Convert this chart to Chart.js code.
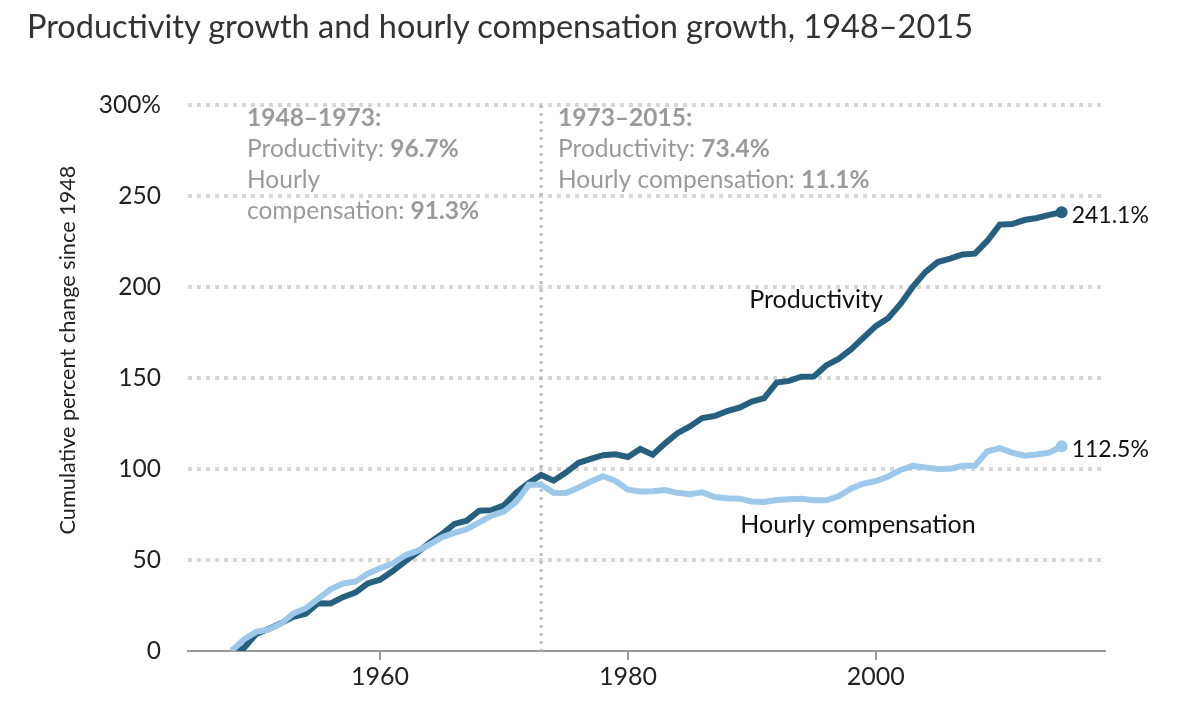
<!DOCTYPE html>
<html>
<head>
<meta charset="utf-8">
<script src="https://cdn.jsdelivr.net/npm/chart.js@4.4.1/dist/chart.umd.min.js"></script>
<style>
  body { margin: 0; background: #fff; }
  #wrap { position: relative; width: 1186px; height: 716px; }
  #title { position: absolute; left: 27px; top: 6px; font-family: Lato, sans-serif; font-size: 32.5px; color: #333; white-space: nowrap; }
  canvas { position: absolute; left: 0; top: 0; }
</style>
</head>
<body>
<div id="wrap">
  <canvas id="chart" width="1186" height="716"></canvas>
  <div id="title">Productivity growth and hourly compensation growth, 1948–2015</div>
</div>
<script>
// ---------------- DATA ----------------
const years = [];
for (let y = 1948; y <= 2015; y++) years.push(y);

const productivity = [
  0, 1.5, 9.3, 12.1, 15.3, 18.8, 20.5, 26.2, 26.1, 29.6,
  32.1, 37.1, 39.2, 43.8, 49.1, 54.1, 59.5, 64.3, 69.8, 71.6,
  77.1, 77.4, 80.0, 87.1, 92.3, 96.7, 93.6, 98.0, 103.3, 105.6,
  107.6, 108.1, 106.6, 111.0, 107.9, 114.1, 119.7, 123.4, 128.0, 129.1,
  131.8, 133.7, 137.0, 138.9, 147.5, 148.4, 150.7, 150.8, 156.9, 160.5,
  165.7, 172.1, 178.5, 182.8, 190.7, 200.2, 208.2, 213.7, 215.6, 217.9,
  218.3, 225.3, 234.3, 234.6, 236.8, 237.9, 239.6, 241.1
];

const compensation = [
  0, 6.3, 10.5, 11.8, 15.0, 20.6, 23.5, 28.7, 33.9, 37.1,
  38.1, 42.5, 45.5, 48.0, 52.5, 55.0, 58.5, 62.5, 64.9, 66.9,
  70.7, 74.4, 76.6, 82.0, 91.3, 91.3, 86.9, 86.8, 89.7, 93.1,
  96.0, 93.4, 88.6, 87.6, 87.8, 88.4, 86.9, 86.2, 87.2, 84.6,
  83.9, 83.7, 82.2, 81.9, 83.0, 83.4, 83.7, 82.8, 82.8, 85.0,
  89.2, 92.0, 93.4, 95.9, 99.5, 101.7, 100.9, 100.0, 100.1, 101.8,
  101.8, 109.7, 111.5, 109.0, 107.3, 108.0, 109.0, 112.5
];

const xTickYears = [1960, 1980, 2000];
const splitYear = 1973;
const endLabels = ["241.1%", "112.5%"];
const seriesNames = ["Productivity", "Hourly compensation"];
const yTitle = "Cumulative percent change since 1948";

const leftNote = [
  [["1948–1973:", true]],
  [["Productivity: ", false], ["96.7%", true]],
  [["Hourly", false]],
  [["compensation: ", false], ["91.3%", true]]
];
const rightNote = [
  [["1973–2015:", true]],
  [["Productivity: ", false], ["73.4%", true]],
  [["Hourly compensation: ", false], ["11.1%", true]]
];

const FONT = "Lato, sans-serif";
const DARK = "#27607f";
const LIGHT = "#9dc8ea";

// ---------------- PLUGIN: notes, labels ----------------
const notes = {
    id: "notes",
    beforeDatasetsDraw(chart) {
        const { ctx, chartArea, scales } = chart;
        const x = scales.x.getPixelForValue(splitYear);
        ctx.save();
        ctx.strokeStyle = "#bdbdbd";
        ctx.lineWidth = 3;
        ctx.setLineDash([3, 5]);
        ctx.beginPath();
        ctx.moveTo(x, chartArea.top);
        ctx.lineTo(x, chartArea.bottom);
        ctx.stroke();
        ctx.restore();
    },
    afterDatasetsDraw(chart) {
        const { ctx, scales } = chart;
        ctx.save();

        function block(lines, x0, y0) {
            ctx.fillStyle = "#9a9a9a";
            ctx.textBaseline = "middle";
            ctx.textAlign = "left";
            lines.forEach((parts, i) => {
                let x = x0;
                parts.forEach(([txt, bold]) => {
                    ctx.font = (bold ? "bold " : "") + "24.5px " + FONT;
                    ctx.fillText(txt, x, y0 + i * 31);
                    x += ctx.measureText(txt).width;
                });
            });
        }
        block(leftNote, 247, 118);
        block(rightNote, 558, 118);

        // series names
        ctx.fillStyle = "#111";
        ctx.font = "25px " + FONT;
        ctx.textAlign = "center";
        ctx.fillText(seriesNames[0], 816, 300);
        ctx.fillText(seriesNames[1], 858, 525);

        // end labels
        ctx.textAlign = "left";
        ctx.font = "23px " + FONT;
        const last = years.length - 1;
        const xe = scales.x.getPixelForValue(years[last]);
        ctx.fillText(endLabels[0], xe + 10, scales.y.getPixelForValue(productivity[last]) + 3);
        ctx.fillText(endLabels[1], xe + 10, scales.y.getPixelForValue(compensation[last]) + 3);

        // y axis title
        ctx.translate(68, 350);
        ctx.rotate(-Math.PI / 2);
        ctx.textAlign = "center";
        ctx.fillStyle = "#222";
        ctx.font = "21.7px " + FONT;
        ctx.fillText(yTitle, 0, 0);
        ctx.restore();
    }
};

const lastIdx = years.length - 1;
const endDot = c => (c.dataIndex === lastIdx ? 6 : 0);

new Chart(document.getElementById("chart"), {
    type: "line",
    data: {
        datasets: [
            {
                label: seriesNames[1],
                data: years.map((y, i) => ({ x: y, y: compensation[i] })),
                borderColor: LIGHT,
                backgroundColor: LIGHT,
                borderWidth: 6,
                pointRadius: endDot,
                pointHoverRadius: endDot,
                pointBorderWidth: 0,
                tension: 0
            },
            {
                label: seriesNames[0],
                data: years.map((y, i) => ({ x: y, y: productivity[i] })),
                borderColor: DARK,
                backgroundColor: DARK,
                borderWidth: 6,
                pointRadius: endDot,
                pointHoverRadius: endDot,
                pointBorderWidth: 0,
                tension: 0
            }
        ]
    },
    options: {
        animation: false,
        responsive: false,
        events: [],
        layout: { padding: { top: 105, right: 81, left: 0, bottom: 0 } },
        plugins: { legend: { display: false }, tooltip: { enabled: false } },
        scales: {
            x: {
                type: "linear",
                min: 1944.5,
                max: 2018.5,
                afterBuildTicks: s => { s.ticks = xTickYears.map(v => ({ value: v })); },
                afterFit: s => { s.height = 65; },
                ticks: {
                    callback: v => String(v),
                    color: "#222",
                    font: { family: FONT, size: 25 },
                    padding: 2,
                    maxRotation: 0
                },
                grid: { drawOnChartArea: false, drawTicks: true, tickLength: 9, color: "#999", lineWidth: 2 },
                border: { display: true, color: "#999", width: 2 }
            },
            y: {
                min: 0,
                max: 300,
                afterFit: s => { s.width = 188; },
                ticks: {
                    stepSize: 50,
                    callback: v => (v === 300 ? "300%" : String(v)),
                    color: "#222",
                    font: { family: FONT, size: 24.5 },
                    padding: 27
                },
                grid: {
                    drawTicks: false,
                    color: c => (c.tick.value === 0 ? "rgba(0,0,0,0)" : "#d6d6d6"),
                    lineWidth: 4
                },
                border: { display: false, dash: [4, 5] }
            }
        }
    },
    plugins: [notes]
});
</script>
</body>
</html>
